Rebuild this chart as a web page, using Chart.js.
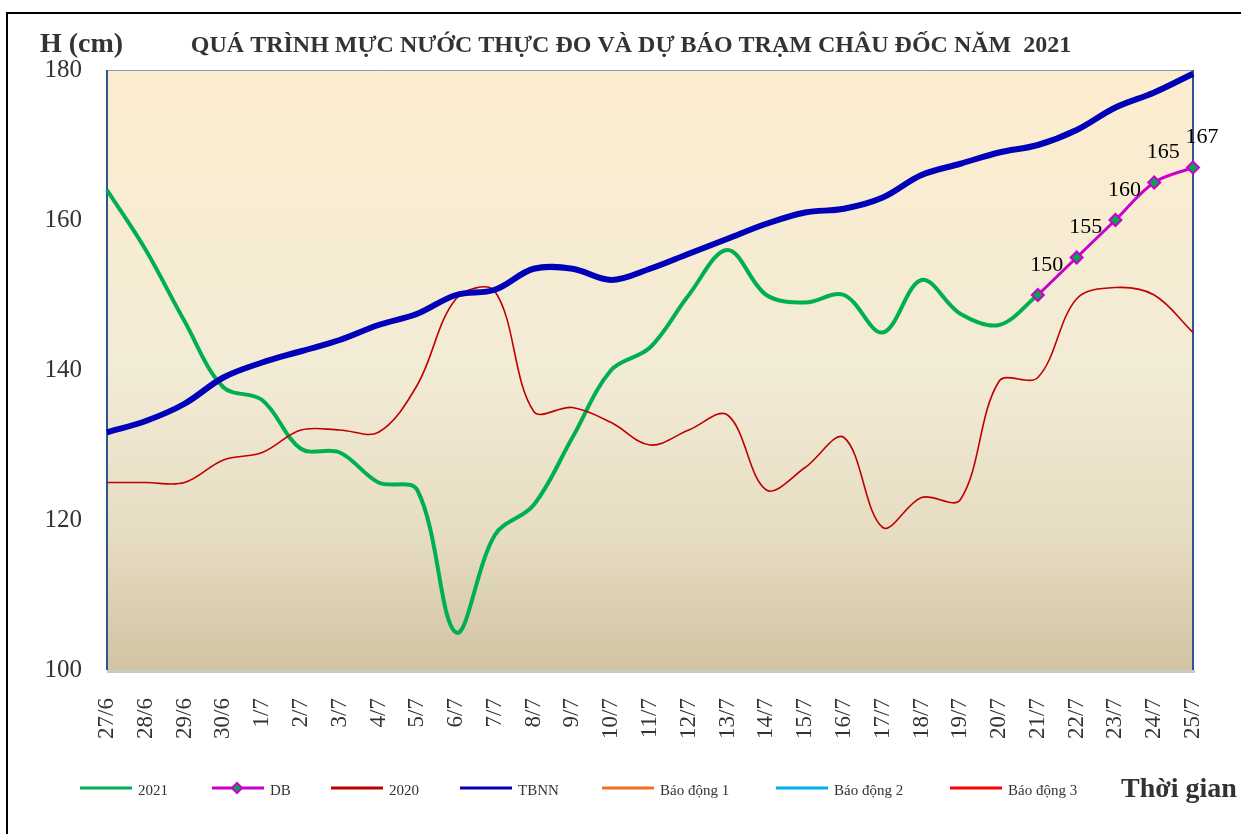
<!DOCTYPE html>
<html>
<head>
<meta charset="utf-8">
<script src="https://cdn.jsdelivr.net/npm/chart.js@4.4.0/dist/chart.umd.min.js"></script>
<style>
  html, body { margin: 0; padding: 0; background: #fff; }
  #wrap { position: relative; width: 1241px; height: 834px; overflow: hidden; }
  #frame { position: absolute; left: 6px; top: 12px; width: 1260px; height: 850px; border-left: 2px solid #000; border-top: 2px solid #000; }
  canvas { position: absolute; left: 0; top: 0; }
</style>
</head>
<body>
<div id="wrap">
  <div id="frame"></div>
  <canvas id="waterChart" width="1241" height="834"></canvas>
</div>
<script>
const days = ['27/6', '28/6', '29/6', '30/6', '1/7', '2/7', '3/7', '4/7', '5/7', '6/7',
    '7/7', '8/7', '9/7', '10/7', '11/7', '12/7', '13/7', '14/7', '15/7', '16/7',
    '17/7', '18/7', '19/7', '20/7', '21/7', '22/7', '23/7', '24/7', '25/7'];

// muc nuoc thuc do 2021 (cm)
const level2021 = [164, 156, 146.5, 137.7, 136, 129.5, 129, 125, 124, 105,
    118, 122, 131, 140, 143, 150, 156, 150, 149, 150,
    145, 152, 147.5, 146, 150, null, null, null, null];

// du bao
const dbForecast = [null, null, null, null, null, null, null, null, null, null,
    null, null, null, null, null, null, null, null, null, null,
    null, null, null, null, 150, 155, 160, 165, 167];

const level2020 = [125, 125, 125, 128, 129, 132, 132, 131.7, 138, 149.5,
    150.5, 134.5, 135, 133, 130, 132, 134, 124, 127, 131,
    119, 123, 122.7, 138.5, 139, 149.5, 151, 150, 145];

// trung binh nhieu nam
const levelTBNN = [131.7, 133.2, 135.5, 139, 141, 142.5, 144, 146, 147.5, 150,
    150.7, 153.5, 153.5, 152, 153.5, 155.5, 157.5, 159.5, 161, 161.5,
    163, 166, 167.5, 169, 170, 172, 175, 177, 179.5];

// bao dong 1-3 nam ngoai khung 100-180 nen khong ve
const alarm1 = [];
const alarm2 = [];
const alarm3 = [];

const yTicks = [100, 120, 140, 160, 180];

const serif = "'Liberation Serif', 'Times New Roman', serif";

const plotBackground = {
    id: 'plotBackground',
    beforeDatasetsDraw(chart) {
        const { ctx, chartArea: a } = chart;
        const g = ctx.createLinearGradient(0, a.top, 0, a.bottom);
        g.addColorStop(0, '#FDEDCF');
        g.addColorStop(0.5, '#F2EBD6');
        g.addColorStop(0.78, '#E6DCC2');
        g.addColorStop(1, '#D2C4A2');
        ctx.save();
        ctx.fillStyle = g;
        ctx.fillRect(a.left, a.top, a.right - a.left, a.bottom - a.top);
        ctx.strokeStyle = '#8A9BB5';
        ctx.lineWidth = 1;
        ctx.beginPath();
        ctx.moveTo(a.left, a.top + 0.5);
        ctx.lineTo(a.right, a.top + 0.5);
        ctx.stroke();
        ctx.strokeStyle = '#C9C9C9';
        ctx.lineWidth = 3;
        ctx.beginPath();
        ctx.moveTo(a.left, a.bottom + 1.5);
        ctx.lineTo(a.right + 2, a.bottom + 1.5);
        ctx.stroke();
        ctx.strokeStyle = '#2F5490';
        ctx.lineWidth = 2;
        ctx.beginPath();
        ctx.moveTo(a.left, a.top);
        ctx.lineTo(a.left, a.bottom);
        ctx.moveTo(a.right, a.top);
        ctx.lineTo(a.right, a.bottom);
        ctx.stroke();
        ctx.restore();
    }
};

const dbLabels = {
    id: 'dbLabels',
    afterDatasetsDraw(chart) {
        const ctx = chart.ctx;
        const i = chart.data.datasets.findIndex(d => d.label === 'DB');
        const meta = chart.getDatasetMeta(i);
        ctx.save();
        ctx.font = '22px ' + serif;
        ctx.fillStyle = '#000';
        ctx.textAlign = 'center';
        ctx.textBaseline = 'middle';
        meta.data.forEach((pt, k) => {
            if (dbForecast[k] == null) return;
            ctx.fillText(String(dbForecast[k]), pt.x + 9, pt.y - 30);
        });
        ctx.restore();
    }
};

const extraText = {
    id: 'extraText',
    afterDraw(chart) {
        const ctx = chart.ctx;
        ctx.save();
        ctx.fillStyle = '#333';
        ctx.textBaseline = 'middle';
        ctx.font = 'bold 28px ' + serif;
        ctx.fillText('H (cm)', 40, 45);
        ctx.font = 'bold 24px ' + serif;
        ctx.textAlign = 'center';
        ctx.fillText('QUÁ TRÌNH MỰC NƯỚC THỰC ĐO VÀ DỰ BÁO TRẠM CHÂU ĐỐC NĂM  2021', 631, 46);
        ctx.textAlign = 'left';
        ctx.font = 'bold 28px ' + serif;
        ctx.fillText('Thời gian', 1121, 790);

        // legend
        const xs = [80, 212, 331, 460, 602, 776, 950];
        const ly = 788;
        ctx.font = '15px ' + serif;
        chart.data.datasets.forEach((ds, k) => {
            const x = xs[k];
            ctx.strokeStyle = ds.borderColor;
            ctx.lineWidth = 3;
            ctx.beginPath();
            ctx.moveTo(x, ly);
            ctx.lineTo(x + 52, ly);
            ctx.stroke();
            if (ds.pointRadius > 0) {
                ctx.fillStyle = ds.pointBackgroundColor;
                ctx.strokeStyle = ds.pointBorderColor;
                ctx.lineWidth = 2;
                ctx.beginPath();
                ctx.moveTo(x + 25, ly - 5);
                ctx.lineTo(x + 30, ly);
                ctx.lineTo(x + 25, ly + 5);
                ctx.lineTo(x + 20, ly);
                ctx.closePath();
                ctx.fill();
                ctx.stroke();
            }
            ctx.fillStyle = '#333';
            ctx.fillText(ds.label, x + 58, ly + 3);
        });
        ctx.restore();
    }
};

const ctx = document.getElementById('waterChart').getContext('2d');
window.waterChart = new Chart(ctx, {
    type: 'line',
    data: {
        labels: days,
        datasets: [
            { label: '2021', data: level2021, borderColor: '#00B050', borderWidth: 4, pointRadius: 0, tension: 0.35, order: 3 },
            { label: 'DB', data: dbForecast, borderColor: '#CC00CC', borderWidth: 3, pointStyle: 'rectRot',
              pointRadius: 6, pointBackgroundColor: '#00A550', pointBorderColor: '#CC00CC', pointBorderWidth: 2,
              tension: 0.35, order: 0, clip: false },
            { label: '2020', data: level2020, borderColor: '#C00000', borderWidth: 1.6, pointRadius: 0, tension: 0.35, order: 2 },
            { label: 'TBNN', data: levelTBNN, borderColor: '#0000B8', borderWidth: 6, pointRadius: 0, tension: 0.35, order: 1 },
            { label: 'Báo động 1', data: alarm1, borderColor: '#F37021', borderWidth: 2, pointRadius: 0 },
            { label: 'Báo động 2', data: alarm2, borderColor: '#00B0F0', borderWidth: 2, pointRadius: 0 },
            { label: 'Báo động 3', data: alarm3, borderColor: '#FF0000', borderWidth: 2, pointRadius: 0 }
        ]
    },
    options: {
        responsive: false,
        animation: false,
        devicePixelRatio: 1,
        layout: { padding: { left: 0, top: 70, right: 48, bottom: 0 } },
        plugins: {
            legend: { display: false },
            title: { display: false },
            tooltip: { enabled: false }
        },
        scales: {
            x: {
                offset: false,
                grid: { display: false },
                border: { display: false },
                ticks: {
                    autoSkip: false,
                    maxRotation: 90,
                    minRotation: 90,
                    padding: 20,
                    color: '#333',
                    font: { family: serif, size: 23 }
                },
                afterFit(scale) {
                    scale.height = 164;
                    scale.paddingLeft = 0;
                    scale.paddingRight = 0;
                }
            },
            y: {
                min: 100,
                max: 180,
                grid: { display: false },
                border: { display: false },
                ticks: {
                    stepSize: 20,
                    padding: 17,
                    color: '#333',
                    font: { family: serif, size: 25 }
                },
                afterBuildTicks(scale) { scale.ticks = yTicks.map(v => ({ value: v })); },
                afterFit(scale) {
                    scale.width = 107;
                    scale.paddingTop = 0;
                    scale.paddingBottom = 0;
                }
            }
        }
    },
    plugins: [plotBackground, dbLabels, extraText]
});
</script>
</body>
</html>
